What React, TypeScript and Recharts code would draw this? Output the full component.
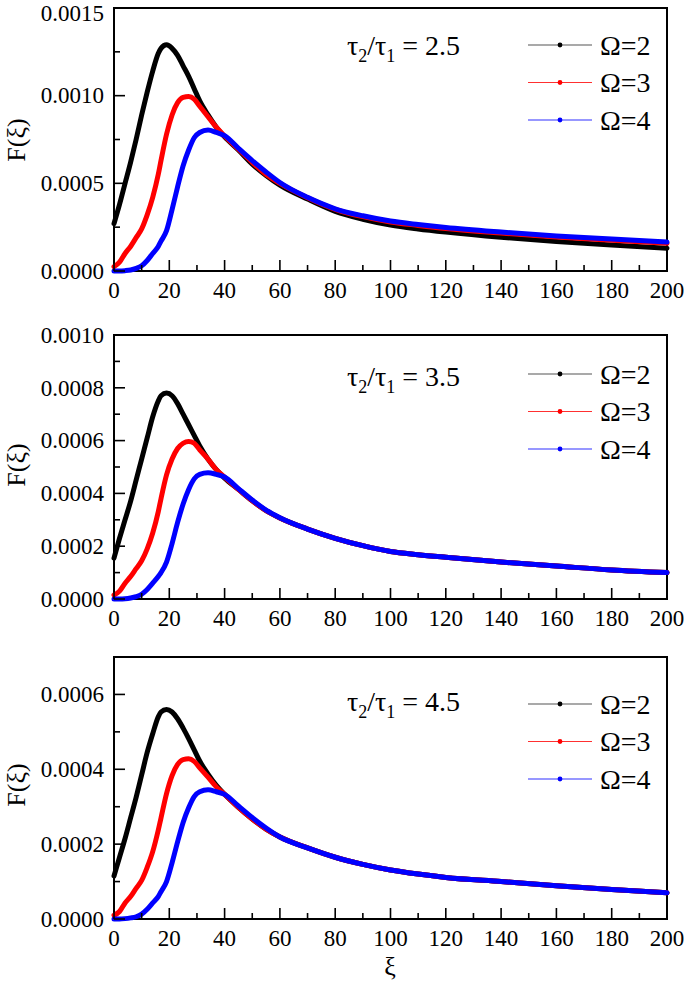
import React from 'react';
import { LineChart, Line, XAxis, YAxis, ReferenceArea } from 'recharts';

const FONT = '"Liberation Serif", "Times New Roman", serif';

// sampled xi positions
const XI = [0, 2, 4, 6, 8, 10, 12, 14, 16, 17, 19, 21, 23, 25, 27, 29, 31, 34, 37, 40, 45, 50, 55, 60, 70, 80, 90, 100, 110, 120, 140, 160, 180, 200];

// tau2/tau1 = 2.5
const B1 = [0.00027, 0.00038, 0.0005, 0.00062, 0.00075, 0.00089, 0.00102, 0.00114, 0.00124, 0.00127, 0.00129, 0.00127, 0.00123, 0.00117, 0.00111, 0.00104, 0.00097, 0.00089, 0.00082, 0.000765, 0.00069, 0.00061, 0.000545, 0.00049, 0.00041, 0.00034, 0.000295, 0.000262, 0.00024, 0.000222, 0.000192, 0.000168, 0.000148, 0.00013];
const R1 = [0.000025, 0.00005, 0.0001, 0.00014, 0.00019, 0.00024, 0.00032, 0.00042, 0.00055, 0.00063, 0.00078, 0.00089, 0.00096, 0.00099, 0.000995, 0.00098, 0.00094, 0.00088, 0.00082, 0.00077, 0.000695, 0.00062, 0.00055, 0.0005, 0.000418, 0.000352, 0.00031, 0.00028, 0.00026, 0.000242, 0.000216, 0.000194, 0.000175, 0.000158];
const U1 = [0, 0, 0.000002, 0.000006, 0.000015, 0.00003, 0.00006, 0.0001, 0.00014, 0.00017, 0.00023, 0.00035, 0.00048, 0.0006, 0.00069, 0.00076, 0.00079, 0.000804, 0.00079, 0.000772, 0.0007, 0.00063, 0.000565, 0.000505, 0.00042, 0.000355, 0.000315, 0.000285, 0.000265, 0.000248, 0.000222, 0.0002, 0.000182, 0.000165];

// tau2/tau1 = 3.5
const B2 = [0.000155, 0.00023, 0.0003, 0.00037, 0.00045, 0.00053, 0.00061, 0.00069, 0.00075, 0.00077, 0.00078, 0.00077, 0.00074, 0.0007, 0.00066, 0.00062, 0.00058, 0.00053, 0.00049, 0.000458, 0.000415, 0.000372, 0.000335, 0.000307, 0.000265, 0.00023, 0.000202, 0.00018, 0.000168, 0.000158, 0.00014, 0.000125, 0.00011, 0.0001];
const R2 = [0.000015, 0.00003, 0.00006, 0.000085, 0.000115, 0.000145, 0.00019, 0.00025, 0.00033, 0.00038, 0.00047, 0.00053, 0.00057, 0.00059, 0.000597, 0.00059, 0.000565, 0.00053, 0.00049, 0.000462, 0.000415, 0.000372, 0.000335, 0.000307, 0.000265, 0.00023, 0.000202, 0.00018, 0.000168, 0.000158, 0.00014, 0.000125, 0.00011, 0.0001];
const U2 = [0, 0, 0.000001, 0.000004, 0.000009, 0.000018, 0.000036, 0.00006, 0.000085, 0.0001, 0.00014, 0.00021, 0.00029, 0.00036, 0.000415, 0.000455, 0.000472, 0.000478, 0.000472, 0.000462, 0.000418, 0.000375, 0.000337, 0.000308, 0.000265, 0.00023, 0.000202, 0.00018, 0.000168, 0.000158, 0.00014, 0.000125, 0.00011, 0.0001];

// tau2/tau1 = 4.5
const B3 = [0.000115, 0.000165, 0.000215, 0.00027, 0.000325, 0.000385, 0.000445, 0.000495, 0.00054, 0.000553, 0.00056, 0.000553, 0.000535, 0.00051, 0.000482, 0.000452, 0.000422, 0.000387, 0.000357, 0.000333, 0.000298, 0.000267, 0.00024, 0.000219, 0.00019, 0.000165, 0.000146, 0.000131, 0.00012, 0.000111, 0.0001, 0.000089, 0.000079, 0.00007];
const R3 = [0.00001, 0.00002, 0.000043, 0.00006, 0.000082, 0.000103, 0.000138, 0.00018, 0.000237, 0.00027, 0.000335, 0.000383, 0.000413, 0.000426, 0.000428, 0.000421, 0.000404, 0.000379, 0.000353, 0.000333, 0.000298, 0.000267, 0.00024, 0.000219, 0.00019, 0.000165, 0.000146, 0.000131, 0.00012, 0.000111, 0.0001, 0.000089, 0.000079, 0.00007];
const U3 = [0, 0, 0.000001, 0.000003, 0.000006, 0.000013, 0.000026, 0.000043, 0.00006, 0.000073, 0.0001, 0.00015, 0.000206, 0.000258, 0.000297, 0.000327, 0.00034, 0.000345, 0.00034, 0.000333, 0.000302, 0.000271, 0.000243, 0.000219, 0.00019, 0.000165, 0.000146, 0.000131, 0.00012, 0.000111, 0.0001, 0.000089, 0.000079, 0.00007];

const X_TICKS = [0, 10, 20, 30, 40, 50, 60, 70, 80, 90, 100, 110, 120, 130, 140, 150, 160, 170, 180, 190, 200];
const X_MAJOR = [0, 20, 40, 60, 80, 100, 120, 140, 160, 180, 200];

const Y1_TICKS = [0, 0.00025, 0.0005, 0.00075, 0.001, 0.00125, 0.0015];
const Y1_MAJOR = [0, 0.0005, 0.001, 0.0015];
const Y2_TICKS = [0, 0.0001, 0.0002, 0.0003, 0.0004, 0.0005, 0.0006, 0.0007, 0.0008, 0.0009, 0.001];
const Y2_MAJOR = [0, 0.0002, 0.0004, 0.0006, 0.0008, 0.001];
const Y3_TICKS = [0, 0.0001, 0.0002, 0.0003, 0.0004, 0.0005, 0.0006, 0.0007];
const Y3_MAJOR = [0, 0.0002, 0.0004, 0.0006];

const SERIES = [
  { key: 'b', name: 'Ω=2', color: '#000000', legend: '#555555' },
  { key: 'r', name: 'Ω=3', color: '#ff0000', legend: '#ff3030' },
  { key: 'u', name: 'Ω=4', color: '#0000ff', legend: '#3030ff' },
];

const rows = (b: number[], r: number[], u: number[]) =>
  XI.map((xi, i) => ({ xi, b: b[i], r: r[i], u: u[i] }));

const isIn = (list: number[], v: number) => list.some((m) => Math.abs(m - v) < 1e-9);

const XTick = (props: any) => {
  const { x, y, payload } = props;
  const major = isIn(X_MAJOR, payload.value);
  return (
    <g>
      <line x1={x} x2={x} y1={y} y2={y - (major ? 11 : 6)} stroke="#000" strokeWidth={1.6} />
      {major && (
        <text x={x} y={y + 27} textAnchor="middle" fontSize={23} style={{ fontFamily: FONT }} fill="#000">
          {payload.value}
        </text>
      )}
    </g>
  );
};

// the top label of the first panel sits at the page edge; keep its box inside the page
const makeYTick = (majors: number[], chartTop: number) => (props: any) => {
  const { x, y, payload } = props;
  const major = isIn(majors, payload.value);
  const ty = Math.max(y, 13 - chartTop);
  return (
    <g>
      <line x1={x} x2={x + (major ? 11 : 6)} y1={y} y2={y} stroke="#000" strokeWidth={1.6} />
      {major && (
        <text x={x - 10} y={ty} dy="0.34em" textAnchor="end" fontSize={23} style={{ fontFamily: FONT }} fill="#000">
          {payload.value.toFixed(4)}
        </text>
      )}
    </g>
  );
};

type PanelProps = {
  top: number;
  height: number;
  mTop: number;
  mBottom: number;
  data: any[];
  yMax: number;
  yTicks: number[];
  yMajor: number[];
};

const Panel = ({ top, height, mTop, mBottom, data, yMax, yTicks, yMajor }: PanelProps) => (
  <div style={{ position: 'absolute', left: 0, top, width: 685, height }}>
    <LineChart
      width={685}
      height={height}
      data={data}
      margin={{ top: mTop, right: 18, bottom: mBottom, left: 0 }}
      style={{ overflow: 'visible' }}
    >
      <XAxis
        dataKey="xi"
        type="number"
        domain={[0, 200]}
        ticks={X_TICKS}
        interval={0}
        tick={<XTick />}
        tickLine={false}
        axisLine={false}
        tickSize={0}
        tickMargin={0}
        height={40}
      />
      <YAxis
        type="number"
        domain={[0, yMax]}
        ticks={yTicks}
        interval={0}
        tick={makeYTick(yMajor, top)}
        tickLine={false}
        axisLine={false}
        tickSize={0}
        tickMargin={0}
        width={114}
      />
      {SERIES.map((s) => (
        <Line
          key={s.key}
          type="monotone"
          dataKey={s.key}
          stroke={s.color}
          strokeWidth={5}
          strokeLinecap="round"
          dot={false}
          isAnimationActive={false}
        />
      ))}
      <ReferenceArea x1={0} x2={200} y1={0} y2={yMax} fill="none" fillOpacity={0} stroke="#000" strokeWidth={2} />
    </LineChart>
  </div>
);

const Legend = ({ y }: { y: number }) => (
  <g>
    {SERIES.map((s, i) => {
      const cy = y + i * 37.5;
      return (
        <g key={s.key}>
          <line x1={528} x2={592} y1={cy} y2={cy} stroke={s.legend} strokeWidth={1.2} />
          <circle cx={560} cy={cy} r={2.4} fill={s.color} />
          <text x={600} y={cy + 9.5} fontSize={28} style={{ fontFamily: FONT }} fill="#000">
            {s.name}
          </text>
        </g>
      );
    })}
  </g>
);

const Ratio = ({ y, value }: { y: number; value: string }) => (
  <text x={347} y={y} fontSize={28} style={{ fontFamily: FONT }} fill="#000">
    τ<tspan dy={7} fontSize={18}>2</tspan>
    <tspan dy={-7}>/τ</tspan>
    <tspan dy={7} fontSize={18}>1</tspan>
    <tspan dy={-7}> = {value}</tspan>
  </text>
);

const YLabel = ({ cy }: { cy: number }) => (
  <text
    transform={`translate(25, ${cy}) rotate(-90)`}
    textAnchor="middle"
    fontSize={26}
    style={{ fontFamily: FONT }}
    fill="#000"
  >
    F(ξ)
  </text>
);

export default function App() {
  return (
    <div style={{ position: 'absolute', left: 0, top: 0, width: 685, height: 987, background: '#fff' }}>
      <Panel top={0} height={320} mTop={8} mBottom={9} data={rows(B1, R1, U1)} yMax={0.0015} yTicks={Y1_TICKS} yMajor={Y1_MAJOR} />
      <Panel top={320} height={330} mTop={15} mBottom={11} data={rows(B2, R2, U2)} yMax={0.001} yTicks={Y2_TICKS} yMajor={Y2_MAJOR} />
      <Panel top={650} height={337} mTop={7} mBottom={28} data={rows(B3, R3, U3)} yMax={0.0007} yTicks={Y3_TICKS} yMajor={Y3_MAJOR} />
      <svg
        width={685}
        height={987}
        style={{ position: 'absolute', left: 0, top: 0, pointerEvents: 'none' }}
      >
        <Ratio y={55} value="2.5" />
        <Ratio y={386} value="3.5" />
        <Ratio y={711} value="4.5" />
        <Legend y={45} />
        <Legend y={374} />
        <Legend y={704} />
        <YLabel cy={140} />
        <YLabel cy={465} />
        <YLabel cy={785} />
        <text x={390} y={975} textAnchor="middle" fontSize={26} style={{ fontFamily: FONT }} fill="#000">
          ξ
        </text>
      </svg>
    </div>
  );
}
